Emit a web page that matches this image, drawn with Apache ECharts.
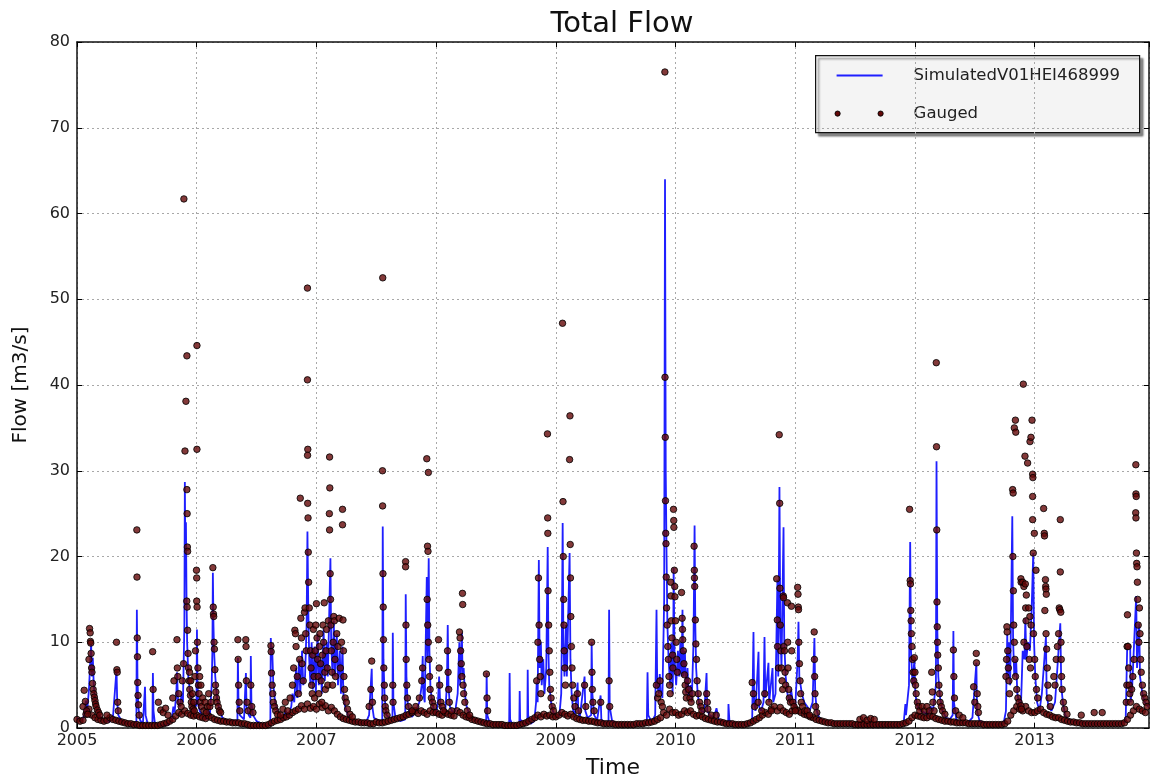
<!DOCTYPE html>
<html>
<head>
<meta charset="utf-8">
<script src="https://cdn.jsdelivr.net/npm/echarts@6/dist/echarts.min.js"></script>
<style>
html,body{margin:0;padding:0;background:#fff;}
#chart{width:1150px;height:782px;}
</style>
</head>
<body>
<div id="chart"></div>
<script>
// ---------- DATA (decimal year, flow m3/s) ----------
const yearTicks = [2005, 2006, 2007, 2008, 2009, 2010, 2011, 2012, 2013];
const flowTicks = [0, 10, 20, 30, 40, 50, 60, 70, 80];

// Simulated series
const simulated = [
[2005.000,1.2],[2005.020,0.9],[2005.040,0.8],[2005.060,1.5],[2005.075,3.2],[2005.085,2.0],[2005.100,4.5],[2005.110,7.5],[2005.118,9.8],[2005.125,6.0],[2005.132,8.2],[2005.140,5.0],[2005.150,3.5],[2005.165,2.5],[2005.185,1.5],[2005.210,1.0],[2005.240,0.8],[2005.270,0.7],[2005.300,1.2],[2005.315,4.0],[2005.330,6.8],[2005.336,3.0],[2005.345,1.5],[2005.370,0.9],[2005.400,0.6],[2005.430,0.5],[2005.460,0.4],[2005.496,0.3],[2005.500,13.8],[2005.505,6.0],[2005.512,2.5],[2005.525,1.0],[2005.550,0.4],[2005.565,0.3],[2005.568,4.8],[2005.573,1.5],[2005.590,0.5],[2005.630,0.4],[2005.634,6.4],[2005.639,2.0],[2005.650,0.6],[2005.680,0.3],[2005.720,0.3],[2005.760,0.4],[2005.790,0.9],[2005.805,2.5],[2005.815,1.8],[2005.830,4.0],[2005.835,6.5],[2005.845,3.0],[2005.860,2.5],[2005.875,4.0],[2005.885,3.0],[2005.897,12.0],[2005.901,28.7],[2005.905,20.0],[2005.910,24.0],[2005.915,15.0],[2005.920,10.0],[2005.930,6.0],[2005.945,4.0],[2005.960,3.0],[2005.975,2.0],[2005.990,3.0],[2005.998,2.5],
[2006.002,11.5],[2006.006,6.0],[2006.012,3.0],[2006.025,2.0],[2006.040,1.6],[2006.060,1.2],[2006.080,1.0],[2006.095,2.0],[2006.110,1.5],[2006.125,5.0],[2006.131,9.0],[2006.135,18.1],[2006.140,12.0],[2006.145,9.0],[2006.155,6.0],[2006.170,3.5],[2006.190,2.0],[2006.215,1.2],[2006.240,0.9],[2006.270,0.8],[2006.300,0.9],[2006.340,0.8],[2006.344,8.2],[2006.349,3.0],[2006.360,1.5],[2006.395,1.0],[2006.408,1.2],[2006.411,6.4],[2006.416,2.5],[2006.435,1.5],[2006.449,1.2],[2006.452,8.4],[2006.457,3.0],[2006.470,1.5],[2006.500,0.8],[2006.540,0.5],[2006.580,0.3],[2006.615,0.3],[2006.619,10.5],[2006.625,8.0],[2006.630,9.5],[2006.640,5.0],[2006.655,3.0],[2006.675,2.0],[2006.700,1.5],[2006.720,1.0],[2006.745,2.0],[2006.760,1.2],[2006.790,2.5],[2006.800,4.0],[2006.815,3.0],[2006.830,7.0],[2006.840,3.5],[2006.855,8.0],[2006.865,4.0],[2006.880,9.0],[2006.890,5.0],[2006.905,6.0],[2006.918,12.0],[2006.925,22.9],[2006.932,14.0],[2006.940,8.0],[2006.950,5.0],[2006.960,10.0],[2006.970,4.5],[2006.985,9.5],[2006.995,4.0],
[2007.010,11.0],[2007.020,5.0],[2007.035,8.0],[2007.045,4.0],[2007.060,11.5],[2007.070,5.5],[2007.085,10.0],[2007.095,6.0],[2007.105,12.0],[2007.117,19.8],[2007.123,10.0],[2007.135,6.0],[2007.145,12.5],[2007.155,6.0],[2007.170,11.0],[2007.180,5.0],[2007.195,9.0],[2007.205,4.0],[2007.218,9.5],[2007.225,4.0],[2007.240,2.5],[2007.270,1.3],[2007.300,0.9],[2007.340,0.7],[2007.380,0.6],[2007.410,0.5],[2007.440,1.5],[2007.450,4.0],[2007.462,6.9],[2007.467,2.5],[2007.480,1.2],[2007.510,0.9],[2007.550,0.8],[2007.554,23.5],[2007.560,8.0],[2007.570,3.5],[2007.585,1.5],[2007.635,0.9],[2007.638,11.1],[2007.643,3.0],[2007.660,1.2],[2007.700,0.8],[2007.742,1.0],[2007.746,15.6],[2007.752,6.0],[2007.762,3.0],[2007.780,1.5],[2007.800,1.3],[2007.830,2.0],[2007.860,3.0],[2007.880,5.0],[2007.888,8.4],[2007.893,4.0],[2007.905,3.0],[2007.922,17.6],[2007.928,8.0],[2007.938,19.8],[2007.944,9.0],[2007.952,5.0],[2007.965,3.0],[2007.985,2.0],
[2008.000,1.5],[2008.015,3.0],[2008.025,6.0],[2008.035,2.5],[2008.055,2.0],[2008.075,1.6],[2008.090,5.0],[2008.097,12.0],[2008.103,5.0],[2008.115,2.5],[2008.140,1.8],[2008.160,2.0],[2008.180,4.0],[2008.194,10.0],[2008.200,5.0],[2008.215,11.1],[2008.221,6.0],[2008.230,7.0],[2008.240,4.0],[2008.255,2.5],[2008.280,1.5],[2008.310,1.0],[2008.350,0.8],[2008.390,0.7],[2008.418,0.6],[2008.422,6.4],[2008.427,1.5],[2008.450,0.5],[2008.500,0.4],[2008.550,0.3],[2008.610,0.3],[2008.614,6.4],[2008.618,1.0],[2008.640,0.3],[2008.695,0.3],[2008.698,4.3],[2008.702,1.0],[2008.740,0.4],[2008.762,0.5],[2008.765,6.8],[2008.769,1.5],[2008.790,0.5],[2008.820,0.8],[2008.835,3.0],[2008.840,5.4],[2008.848,3.0],[2008.858,19.6],[2008.865,7.0],[2008.875,10.0],[2008.882,5.0],[2008.895,8.0],[2008.905,4.0],[2008.920,7.0],[2008.932,21.1],[2008.938,9.0],[2008.945,5.0],[2008.960,3.0],[2008.975,2.0],[2008.990,1.5],
[2009.010,1.2],[2009.030,1.5],[2009.045,4.0],[2009.050,10.0],[2009.057,23.9],[2009.063,10.0],[2009.072,6.0],[2009.085,12.0],[2009.092,6.0],[2009.115,20.4],[2009.122,8.0],[2009.132,4.0],[2009.145,2.0],[2009.160,1.5],[2009.182,5.3],[2009.187,2.0],[2009.200,1.2],[2009.240,6.0],[2009.246,2.0],[2009.265,1.2],[2009.295,1.5],[2009.299,10.0],[2009.305,4.0],[2009.320,1.5],[2009.345,0.9],[2009.374,3.8],[2009.380,1.0],[2009.410,0.6],[2009.440,0.6],[2009.445,13.8],[2009.450,2.5],[2009.470,0.8],[2009.520,0.5],[2009.580,0.4],[2009.640,0.4],[2009.700,0.4],[2009.760,0.5],[2009.766,6.5],[2009.772,1.5],[2009.800,0.7],[2009.830,1.5],[2009.841,13.8],[2009.847,5.0],[2009.860,4.0],[2009.868,6.3],[2009.875,4.5],[2009.890,3.5],[2009.905,15.0],[2009.912,64.0],[2009.918,30.0],[2009.925,20.0],[2009.932,12.0],[2009.942,8.0],[2009.955,5.0],[2009.965,10.0],[2009.975,4.0],[2009.980,7.0],[2009.984,18.7],[2009.992,8.0],
[2010.005,5.0],[2010.020,9.0],[2010.030,6.0],[2010.040,10.0],[2010.050,6.0],[2010.058,13.8],[2010.065,6.0],[2010.078,9.0],[2010.088,4.0],[2010.100,7.0],[2010.110,3.5],[2010.125,5.0],[2010.135,3.0],[2010.150,10.0],[2010.159,23.6],[2010.165,12.0],[2010.172,7.0],[2010.185,4.0],[2010.200,2.5],[2010.215,2.0],[2010.240,1.8],[2010.259,6.4],[2010.265,2.0],[2010.285,1.5],[2010.320,1.2],[2010.342,2.3],[2010.360,1.0],[2010.400,0.7],[2010.440,0.7],[2010.442,2.8],[2010.450,0.8],[2010.500,0.5],[2010.560,0.4],[2010.600,0.4],[2010.640,0.8],[2010.651,11.2],[2010.657,3.0],[2010.668,2.0],[2010.693,8.9],[2010.698,2.5],[2010.715,2.0],[2010.735,3.0],[2010.743,10.6],[2010.750,3.5],[2010.776,7.6],[2010.782,3.0],[2010.810,7.0],[2010.816,3.0],[2010.835,4.0],[2010.851,17.3],[2010.858,6.0],[2010.868,28.1],[2010.875,12.0],[2010.885,7.0],[2010.902,23.4],[2010.908,10.0],[2010.920,6.0],[2010.935,4.0],[2010.950,3.0],[2010.965,4.5],[2010.980,3.0],
[2011.000,2.5],[2011.020,8.0],[2011.027,12.4],[2011.034,6.0],[2011.055,4.0],[2011.075,3.0],[2011.100,2.5],[2011.120,2.0],[2011.145,3.0],[2011.160,10.5],[2011.167,4.0],[2011.180,2.0],[2011.200,1.2],[2011.240,0.8],[2011.300,0.6],[2011.380,0.5],[2011.460,0.4],[2011.540,0.4],[2011.620,0.4],[2011.700,0.4],[2011.780,0.4],[2011.850,0.4],[2011.905,0.5],[2011.920,2.8],[2011.925,1.5],[2011.950,5.0],[2011.960,21.7],[2011.967,9.0],[2011.980,5.0],[2011.995,8.0],
[2012.003,4.0],[2012.020,2.5],[2012.050,2.0],[2012.080,1.8],[2012.110,1.5],[2012.130,2.5],[2012.150,2.0],[2012.175,5.0],[2012.180,31.1],[2012.186,12.0],[2012.195,6.0],[2012.210,3.5],[2012.230,2.0],[2012.260,1.2],[2012.290,1.0],[2012.315,1.5],[2012.321,11.3],[2012.326,3.0],[2012.345,1.0],[2012.390,0.6],[2012.440,0.6],[2012.480,1.2],[2012.513,7.6],[2012.518,2.0],[2012.540,0.8],[2012.600,0.5],[2012.680,0.4],[2012.740,0.5],[2012.760,2.0],[2012.771,11.0],[2012.776,6.0],[2012.785,10.0],[2012.795,5.0],[2012.813,24.7],[2012.820,10.0],[2012.830,6.0],[2012.845,8.0],[2012.855,4.0],[2012.870,3.0],[2012.885,2.5],[2012.900,9.0],[2012.915,8.0],[2012.922,12.8],[2012.930,8.0],[2012.945,10.0],[2012.960,9.0],[2012.975,14.0],[2012.988,20.4],[2012.995,10.0],
[2013.005,6.0],[2013.020,3.0],[2013.040,2.0],[2013.060,4.0],[2013.094,10.6],[2013.100,4.0],[2013.115,2.5],[2013.140,2.0],[2013.170,3.0],[2013.185,6.0],[2013.214,12.2],[2013.222,5.0],[2013.235,3.0],[2013.255,1.5],[2013.280,1.0],[2013.330,0.7],[2013.400,0.6],[2013.480,0.5],[2013.560,0.5],[2013.640,0.5],[2013.720,0.5],[2013.760,0.8],[2013.773,9.5],[2013.798,9.5],[2013.802,3.0],[2013.815,5.0],[2013.848,15.4],[2013.855,7.0],[2013.873,12.2],[2013.880,6.0],[2013.900,4.0],[2013.920,3.0],[2013.950,2.5]
];

const gaugedHigh = [
[2005.05,2.5],[2005.06,4.4],[2005.07,3.1],[2005.08,2.0],[2005.09,1.6],[2005.10,8.0],[2005.105,11.6],[2005.11,11.1],[2005.112,10.1],[2005.115,9.9],[2005.118,8.7],[2005.122,7.0],[2005.125,6.5],[2005.13,5.2],[2005.135,4.5],[2005.14,4.0],[2005.145,3.6],[2005.15,3.2],[2005.155,2.8],[2005.16,2.5],[2005.17,2.1],[2005.18,1.8],[2005.19,1.5],[2005.25,1.5],
[2005.33,10.0],[2005.333,6.8],[2005.336,6.5],[2005.34,3.0],[2005.345,2.0],
[2005.500,23.1],[2005.501,17.6],[2005.503,10.5],[2005.505,8.3],[2005.507,5.3],[2005.51,3.8],[2005.514,2.7],[2005.52,1.5],
[2005.632,8.9],[2005.636,4.5],[2005.68,3.0],[2005.70,2.1],[2005.72,1.8],[2005.74,2.3],[2005.76,1.5],
[2005.80,3.5],[2005.81,5.5],[2005.835,10.3],[2005.838,7.0],[2005.842,6.0],[2005.85,4.0],[2005.86,3.0],[2005.87,2.5],[2005.88,5.5],[2005.89,7.5],
[2005.893,61.7],[2005.902,32.3],[2005.910,38.1],[2005.918,43.4],[2005.918,27.8],[2005.92,25.0],[2005.922,21.1],[2005.924,20.6],[2005.917,14.8],[2005.92,14.1],[2005.924,11.4],[2005.928,8.7],[2005.932,7.0],[2005.937,5.5],[2005.942,4.5],[2005.948,3.8],[2005.955,3.0],[2005.96,2.5],[2005.97,2.2],[2005.98,2.0],
[2005.94,6.5],[2005.95,5.5],[2005.965,4.0],[2005.975,3.0],[2005.985,6.0],[2005.99,9.0],
[2006.002,44.6],[2006.002,32.5],[2005.998,18.4],[2006.0,17.5],[2006.0,14.8],[2006.003,14.1],[2006.006,10.0],[2006.01,7.0],[2006.015,5.0],[2006.02,4.0],[2006.03,3.0],[2006.04,2.5],[2006.06,2.0],[2006.08,1.8],
[2006.025,6.0],[2006.035,5.0],[2006.05,3.5],[2006.07,3.0],[2006.09,2.5],[2006.10,4.0],
[2006.11,2.5],[2006.12,3.0],[2006.135,18.7],[2006.138,14.1],[2006.14,13.3],[2006.142,13.0],[2006.145,10.0],[2006.148,9.2],[2006.152,6.8],[2006.157,5.0],[2006.16,4.2],[2006.165,3.5],[2006.17,3.0],[2006.18,2.5],[2006.19,2.0],[2006.2,1.8],
[2006.344,10.3],[2006.346,8.0],[2006.35,5.0],[2006.355,3.0],[2006.36,2.0],
[2006.41,10.3],[2006.412,9.5],[2006.415,5.5],[2006.42,3.0],[2006.43,2.0],[2006.452,5.0],[2006.46,2.5],[2006.47,1.8],
[2006.62,9.6],[2006.622,8.9],[2006.625,6.4],[2006.63,5.0],[2006.635,4.0],[2006.64,3.0],[2006.65,2.5],[2006.66,2.0],[2006.675,1.6],
[2006.70,1.5],[2006.72,2.2],[2006.74,3.0],[2006.76,2.0],[2006.78,3.5],
[2006.80,5.0],[2006.81,7.0],[2006.82,11.4],[2006.825,11.0],[2006.83,9.5],[2006.84,6.0],[2006.85,4.0],[2006.86,8.0],[2006.865,26.8],[2006.87,12.8],[2006.875,10.5],[2006.88,7.5],[2006.89,5.5],[2006.90,13.5],[2006.905,14.0],[2006.91,11.0],[2006.915,9.0],
[2006.925,51.3],[2006.925,40.6],[2006.928,32.5],[2006.926,31.8],[2006.927,26.2],[2006.93,24.5],[2006.932,20.5],[2006.935,17.0],[2006.94,14.0],[2006.945,12.0],[2006.95,9.0],[2006.955,7.0],[2006.96,5.0],[2006.965,4.0],[2006.97,8.5],[2006.975,11.5],[2006.98,6.0],[2006.985,3.5],[2006.99,9.0],[2006.995,12.0],
[2007.0,14.5],[2007.005,10.5],[2007.01,8.0],[2007.015,6.0],[2007.02,4.0],[2007.025,9.5],[2007.03,11.0],[2007.035,7.5],[2007.04,5.5],[2007.045,3.0],[2007.05,8.5],[2007.055,12.0],[2007.06,10.0],[2007.065,14.6],[2007.07,6.5],[2007.075,4.5],[2007.08,9.0],[2007.085,11.5],[2007.09,7.0],[2007.095,5.0],[2007.10,12.5],
[2007.11,31.6],[2007.112,28.0],[2007.108,25.0],[2007.11,23.1],[2007.115,18.0],[2007.118,15.0],[2007.12,12.0],[2007.125,9.0],[2007.13,6.5],[2007.135,5.0],[2007.14,10.0],[2007.145,13.0],[2007.15,12.5],[2007.155,8.0],[2007.16,6.0],[2007.17,11.0],[2007.18,9.5],[2007.19,12.8],[2007.20,7.0],[2007.21,10.0],
[2007.218,25.5],[2007.218,23.7],[2007.222,12.6],[2007.226,9.0],[2007.23,6.0],[2007.235,4.5],[2007.24,3.5],[2007.25,3.0],[2007.26,2.2],[2007.28,1.6],[2007.30,1.3],
[2007.44,2.5],[2007.455,4.5],[2007.462,7.8],[2007.468,3.0],
[2007.554,52.5],[2007.552,30.0],[2007.553,25.9],[2007.556,18.0],[2007.558,14.1],[2007.56,10.3],[2007.563,7.0],[2007.567,5.0],[2007.57,3.5],[2007.575,2.5],[2007.58,2.0],[2007.59,1.5],
[2007.638,5.0],[2007.64,3.0],
[2007.745,19.4],[2007.745,18.8],[2007.748,12.0],[2007.75,8.0],[2007.755,5.0],[2007.76,3.5],[2007.77,2.5],
[2007.80,2.0],[2007.83,2.5],[2007.86,3.5],[2007.88,5.5],[2007.887,7.0],
[2007.922,31.4],[2007.935,29.8],[2007.928,21.2],[2007.932,20.6],[2007.925,15.0],[2007.93,12.0],[2007.935,10.0],[2007.94,8.0],[2007.945,6.0],[2007.95,4.5],[2007.96,3.5],[2007.97,3.0],[2007.98,2.5],
[2008.02,10.3],[2008.025,7.0],[2008.03,5.0],[2008.04,3.0],[2008.05,2.5],[2008.06,2.0],
[2008.095,9.0],[2008.10,6.5],[2008.105,4.5],[2008.11,3.0],[2008.13,2.0],
[2008.22,15.7],[2008.222,14.4],[2008.195,11.2],[2008.20,10.5],[2008.205,9.0],[2008.21,7.5],[2008.215,6.0],[2008.225,5.0],[2008.23,4.0],[2008.24,3.0],[2008.26,2.0],[2008.28,1.5],
[2008.42,6.3],[2008.425,3.5],[2008.43,2.0],
[2008.84,5.5],[2008.85,10.0],[2008.855,17.5],[2008.86,12.0],[2008.865,8.0],[2008.87,6.0],[2008.875,4.0],
[2008.93,34.3],[2008.932,24.5],[2008.933,22.7],[2008.935,16.0],[2008.94,12.0],[2008.945,9.0],[2008.95,6.5],[2008.955,4.5],[2008.96,3.5],[2008.97,2.5],[2008.98,2.0],
[2009.056,47.2],[2009.06,26.4],[2009.062,20.0],[2009.065,15.0],[2009.068,12.0],[2009.07,9.0],[2009.075,7.0],[2009.08,5.0],
[2009.118,36.4],[2009.115,31.3],[2009.12,21.4],[2009.122,17.5],[2009.125,13.0],[2009.13,9.5],[2009.135,7.0],[2009.14,5.0],[2009.15,3.5],[2009.16,2.5],
[2009.18,4.0],[2009.19,2.0],[2009.24,5.0],[2009.25,2.5],
[2009.299,10.0],[2009.302,6.5],[2009.305,4.5],[2009.31,3.0],[2009.32,2.0],[2009.375,3.0],[2009.445,5.5],[2009.45,2.5],
[2009.84,5.0],[2009.85,3.5],[2009.86,4.0],[2009.87,5.5],[2009.88,3.0],[2009.89,2.5],
[2009.911,76.5],[2009.912,40.9],[2009.914,33.9],[2009.916,26.5],[2009.918,22.7],[2009.92,21.5],[2009.922,17.6],[2009.925,14.0],[2009.93,12.0],[2009.935,9.5],[2009.94,8.0],[2009.945,6.0],[2009.95,5.0],[2009.955,4.0],
[2009.96,17.0],[2009.962,15.4],[2009.965,12.5],[2009.97,10.5],[2009.975,8.5],[2009.978,7.0],
[2009.983,25.5],[2009.985,24.2],[2009.986,23.4],[2009.99,18.4],[2009.993,16.5],[2009.995,15.3],[2010.0,12.5],[2010.005,10.0],[2010.01,8.0],[2010.015,6.5],
[2010.05,15.8],[2010.055,12.8],[2010.058,11.5],[2010.06,10.3],[2010.065,9.0],[2010.07,7.5],[2010.075,6.2],[2010.08,5.0],[2010.085,4.2],[2010.09,3.5],[2010.10,5.5],[2010.11,4.5],[2010.12,3.5],[2010.13,3.0],[2010.14,4.0],
[2010.155,21.2],[2010.157,18.4],[2010.158,17.5],[2010.16,16.5],[2010.165,12.6],[2010.17,9.8],[2010.175,8.0],[2010.18,5.5],[2010.19,4.0],[2010.20,3.0],[2010.21,2.5],[2010.22,2.0],
[2010.26,4.0],[2010.265,3.0],[2010.27,2.2],[2010.30,1.5],[2010.34,1.5],
[2010.64,5.3],[2010.65,4.0],[2010.66,2.5],[2010.69,3.0],[2010.72,2.0],[2010.745,4.0],[2010.78,3.0],[2010.80,2.0],
[2010.845,17.4],[2010.85,12.6],[2010.852,9.5],[2010.86,7.0],[2010.866,34.2],[2010.87,26.2],[2010.872,16.3],[2010.875,12.0],[2010.88,9.0],[2010.885,7.0],[2010.89,5.5],[2010.895,4.5],
[2010.90,15.4],[2010.902,15.2],[2010.905,9.5],[2010.91,9.0],[2010.915,6.5],[2010.92,5.0],[2010.935,14.6],[2010.937,10.0],[2010.94,7.0],[2010.945,4.5],[2010.95,3.5],[2010.96,3.0],[2010.968,14.2],[2010.97,9.0],[2010.98,3.0],[2010.99,2.5],[2011.0,2.0],
[2011.02,16.4],[2011.023,15.6],[2011.025,14.1],[2011.027,13.8],[2011.03,10.0],[2011.035,7.5],[2011.04,5.5],[2011.045,4.0],[2011.05,3.0],[2011.06,2.5],[2011.08,2.0],[2011.10,2.0],[2011.12,1.5],
[2011.158,11.2],[2011.16,8.0],[2011.162,6.0],[2011.165,4.0],[2011.17,2.5],[2011.18,1.8],
[2011.54,1.0],[2011.57,1.2],[2011.60,0.9],[2011.63,1.1],[2011.66,1.0],
[2011.955,25.5],[2011.96,17.2],[2011.962,16.8],[2011.965,13.7],[2011.968,12.5],[2011.97,11.0],[2011.975,9.5],[2011.98,8.0],[2011.985,6.5],[2011.99,5.5],[2011.995,8.2],[2012.0,6.5],[2012.005,5.0],[2012.01,4.0],[2012.02,3.0],[2012.03,2.5],[2012.04,2.0],[2012.06,2.5],[2012.08,2.0],[2012.10,2.5],[2012.12,2.0],
[2012.14,6.5],[2012.145,4.2],[2012.15,3.0],[2012.16,2.0],
[2012.178,42.6],[2012.18,32.8],[2012.182,23.1],[2012.184,14.7],[2012.186,11.8],[2012.188,10.0],[2012.19,8.5],[2012.195,7.0],[2012.20,5.0],[2012.205,4.0],[2012.21,3.0],[2012.22,2.5],[2012.23,2.0],[2012.25,1.6],
[2012.321,9.1],[2012.325,6.0],[2012.33,3.5],[2012.34,2.0],[2012.37,1.5],[2012.40,1.2],
[2012.49,4.8],[2012.50,3.0],[2012.512,8.7],[2012.514,7.6],[2012.52,4.0],[2012.525,2.5],[2012.53,1.8],
[2012.76,6.0],[2012.765,8.0],[2012.768,11.8],[2012.77,11.2],[2012.775,9.0],[2012.78,7.0],[2012.785,5.5],[2012.79,4.0],
[2012.816,27.8],[2012.82,27.4],[2012.839,35.9],[2012.83,35.0],[2012.842,34.5],[2012.818,20.0],[2012.822,16.0],[2012.825,12.0],[2012.83,10.0],[2012.835,8.0],[2012.84,6.0],[2012.85,4.5],[2012.86,3.5],[2012.87,3.0],
[2012.885,17.4],[2012.887,17.0],[2012.885,2.6],[2012.89,2.2],
[2012.905,40.1],[2012.919,31.7],[2012.941,30.9],[2012.961,33.4],[2012.969,33.9],[2012.978,35.9],[2012.983,29.6],[2012.985,29.2],[2012.983,27.0],[2012.983,24.3],[2012.997,22.7],[2012.988,20.4],[2013.011,18.4],
[2012.90,17.0],[2012.91,16.5],[2012.922,16.8],[2012.925,14.0],[2012.928,12.5],[2012.93,15.5],[2012.95,14.0],[2012.96,13.0],[2012.97,12.0],[2012.91,10.0],[2012.935,9.5],[2012.955,8.0],[2012.965,7.0],[2012.99,11.0],[2013.0,8.0],[2013.005,6.0],[2013.015,4.5],[2013.025,3.5],
[2013.075,25.6],[2013.08,22.7],[2013.082,22.4],[2013.09,17.3],[2013.092,16.5],[2013.094,16.2],[2013.097,15.6],[2013.085,13.7],[2013.095,11.0],[2013.1,9.2],[2013.105,7.0],[2013.11,5.0],[2013.12,3.5],[2013.13,2.5],
[2013.16,6.0],[2013.17,5.0],[2013.18,8.0],[2013.19,9.5],[2013.20,11.0],
[2013.214,24.3],[2013.214,18.2],[2013.205,14.0],[2013.21,13.8],[2013.218,13.5],[2013.22,10.0],[2013.222,8.0],[2013.225,6.0],[2013.23,4.5],[2013.24,3.0],[2013.25,2.2],[2013.27,1.6],
[2013.389,1.5],[2013.497,1.8],[2013.564,1.8],
[2013.765,3.0],[2013.77,5.0],[2013.772,9.5],[2013.775,13.2],[2013.78,9.5],[2013.785,7.0],[2013.79,5.0],[2013.795,4.0],[2013.80,3.0],[2013.81,4.5],[2013.82,6.0],[2013.83,8.0],
[2013.845,30.7],[2013.846,27.3],[2013.848,27.0],[2013.844,25.1],[2013.846,24.5],[2013.85,20.4],[2013.852,19.2],[2013.855,18.8],[2013.858,17.0],[2013.86,15.0],[2013.865,12.0],[2013.87,10.0],[2013.875,14.0],[2013.88,11.0],[2013.885,8.0],[2013.89,6.5],[2013.9,5.0],[2013.91,4.0],[2013.92,3.5],[2013.93,3.0],[2013.94,2.5]
];

// Gauged low flow, one reading every 0.025 year starting 2005.0
const lowFlowStart = 2005.0;
const lowFlowStep = 0.025;
const gaugedLowFlow = [
1.0,0.8,0.9,1.6,2.2,1.5,1.2,1.0,0.9,0.8,0.9,1.2,1.0,0.9,0.8,0.7,0.6,0.5,0.5,0.4,0.4,0.3,0.3,0.3,0.3,0.3,0.3,0.3,0.4,0.5,0.6,0.8,1.0,1.4,1.8,1.6,2.0,1.7,1.5,1.4,
1.5,1.3,1.2,1.1,1.4,1.2,1.0,0.9,0.8,0.8,0.7,0.7,0.6,0.6,0.6,0.5,0.5,0.4,0.3,0.3,0.3,0.3,0.3,0.3,0.4,0.6,0.8,0.9,1.0,1.2,1.3,1.5,1.8,2.0,2.2,2.6,2.2,2.8,2.3,2.5,
2.2,2.8,2.4,2.6,2.0,2.4,2.0,1.6,1.3,1.1,1.0,0.9,0.8,0.7,0.7,0.6,0.6,0.6,0.5,0.5,0.7,0.6,0.6,0.7,0.8,0.9,1.0,1.1,1.2,1.3,1.5,1.6,1.8,2.0,1.7,2.0,1.8,1.6,2.0,1.8,
1.8,1.6,1.5,1.8,1.6,1.5,1.4,2.0,1.8,1.5,1.3,1.2,1.0,0.9,0.8,0.7,0.6,0.5,0.5,0.4,0.4,0.4,0.4,0.3,0.3,0.3,0.3,0.3,0.4,0.5,0.6,0.8,1.0,1.2,1.5,1.3,1.6,1.4,1.5,1.3,
1.3,1.5,1.8,1.6,1.4,1.6,1.3,1.1,1.0,0.9,0.9,0.8,0.8,0.7,0.6,0.6,0.5,0.5,0.5,0.5,0.4,0.4,0.4,0.4,0.4,0.4,0.4,0.5,0.5,0.5,0.6,0.6,0.7,0.8,1.0,1.2,1.8,1.5,2.2,1.8,
1.8,1.5,1.6,2.0,1.8,2.0,1.6,1.4,1.5,1.3,1.1,1.0,0.9,0.8,0.7,0.7,0.6,0.5,0.5,0.5,0.4,0.4,0.4,0.4,0.5,0.6,0.8,1.0,1.2,1.5,1.8,1.6,2.2,2.5,2.0,2.4,2.0,1.8,1.6,2.0,
2.2,2.0,1.8,1.6,1.5,1.3,1.2,1.0,0.9,0.8,0.7,0.6,0.6,0.5,0.5,0.5,0.5,0.5,0.5,0.5,0.4,0.4,0.4,0.4,0.4,0.4,0.4,0.4,0.4,0.4,0.4,0.4,0.4,0.4,0.4,0.4,0.5,0.6,0.8,1.2,
1.5,1.4,1.3,1.2,1.2,1.4,1.3,1.1,1.0,0.9,0.8,0.8,0.7,0.7,0.6,0.6,0.6,0.6,0.5,0.5,0.5,0.5,0.5,0.4,0.4,0.4,0.4,0.4,0.4,0.4,0.5,0.8,1.5,2.0,2.5,2.2,2.0,2.5,2.0,1.8,
1.8,2.0,2.2,1.8,1.6,1.5,1.3,1.2,1.2,1.0,0.9,0.8,0.7,0.7,0.6,0.6,0.5,0.5,0.5,0.5,0.5,0.5,0.5,0.5,0.5,0.5,0.5,0.5,0.5,0.5,0.6,1.0,1.5,2.0,2.5,2.2,2.0,1.8
];

const seriesNames = ['SimulatedV01HEI468999', 'Gauged'];
const chartTitle = 'Total Flow';
const xName = 'Time';
const yName = 'Flow [m3/s]';

// ---------- CHART ----------
const lowFlowData = gaugedLowFlow.map((v, i) => [+(lowFlowStart + i * lowFlowStep).toFixed(4), v]);
const gaugedData = lowFlowData.concat(gaugedHigh);

const FONT = 'DejaVu Sans';
const X_MIN = yearTicks[0], X_MAX = 2013.955;
const Y_MIN = flowTicks[0], Y_MAX = flowTicks[flowTicks.length - 1];

const chart = echarts.init(document.getElementById('chart'), null, {renderer: 'canvas'});

const frameTick = {show: true, inside: true, length: 5, lineStyle: {color: '#000', width: 1}};
const gridLine = {show: true, lineStyle: {color: '#a8a8a8', width: 1, type: [2, 3]}};

const DOT_FILL = '#640808', DOT_EDGE = '#000000';

chart.setOption({
  animation: false,
  backgroundColor: '#ffffff',
  title: {
    text: chartTitle, left: 617, top: 5, textAlign: 'center',
    textStyle: {fontFamily: FONT, fontSize: 29, fontWeight: 'normal', color: '#111'}
  },
  grid: {left: 77, right: 1, top: 42, bottom: 54, containLabel: false, outerBoundsMode: 'none'},
  xAxis: [{
    type: 'value', min: X_MIN, max: X_MAX, interval: 1, position: 'bottom',
    name: xName, nameLocation: 'middle', nameGap: 29,
    nameTextStyle: {fontFamily: FONT, fontSize: 22, color: '#111'},
    axisLine: {show: true, onZero: false, lineStyle: {color: '#111', width: 1.5}},
    axisTick: frameTick,
    axisLabel: {fontFamily: FONT, fontSize: 16, color: '#222', margin: 5, formatter: v => String(Math.round(v)), showMaxLabel: false},
    splitLine: gridLine
  }, {
    type: 'value', min: X_MIN, max: X_MAX, interval: 1, position: 'top',
    axisLine: {show: true, onZero: false, lineStyle: {color: '#111', width: 1.5}},
    axisTick: frameTick, axisLabel: {show: false}, splitLine: {show: false}
  }],
  yAxis: [{
    type: 'value', min: Y_MIN, max: Y_MAX, interval: 10, position: 'left',
    name: yName, nameLocation: 'middle', nameGap: 46, nameRotate: 90,
    nameTextStyle: {fontFamily: FONT, fontSize: 20, color: '#111'},
    axisLine: {show: true, onZero: false, lineStyle: {color: '#111', width: 1.5}},
    axisTick: frameTick,
    axisLabel: {fontFamily: FONT, fontSize: 16, color: '#222', margin: 7},
    splitLine: gridLine
  }, {
    type: 'value', min: Y_MIN, max: Y_MAX, interval: 10, position: 'right',
    axisLine: {show: true, onZero: false, lineStyle: {color: '#111', width: 1.5}},
    axisTick: frameTick, axisLabel: {show: false}, splitLine: {show: false}
  }],
  series: [{
    name: seriesNames[0], type: 'line', data: simulated,
    xAxisIndex: 0, yAxisIndex: 0,
    showSymbol: false, symbol: 'none',
    lineStyle: {color: '#1f1fff', width: 1.8},
    z: 2
  }, {
    name: seriesNames[1], type: 'scatter', data: gaugedData,
    xAxisIndex: 0, yAxisIndex: 0,
    symbol: 'circle', symbolSize: 6.5,
    itemStyle: {color: DOT_FILL, borderColor: DOT_EDGE, borderWidth: 1},
    z: 3
  }],
  graphic: [{
    type: 'group', left: 815, top: 55,
    children: [
      {type: 'rect', shape: {x: 0, y: 0, width: 324, height: 77},
       style: {fill: '#f4f4f4', stroke: '#111', lineWidth: 1.2, shadowBlur: 2, shadowOffsetX: 3, shadowOffsetY: 3, shadowColor: 'rgba(0,0,0,0.45)'}},
      {type: 'line', shape: {x1: 21, y1: 20, x2: 67, y2: 20}, style: {stroke: '#1f1fff', lineWidth: 2}},
      {type: 'text', x: 98, y: 20, style: {text: seriesNames[0], fontFamily: FONT, fontSize: 16.5, fill: '#222', verticalAlign: 'middle'}},
      {type: 'circle', shape: {cx: 22, cy: 58, r: 2.6}, style: {fill: DOT_FILL, stroke: DOT_EDGE, lineWidth: 0.9}},
      {type: 'circle', shape: {cx: 65, cy: 58, r: 2.6}, style: {fill: DOT_FILL, stroke: DOT_EDGE, lineWidth: 0.9}},
      {type: 'text', x: 98, y: 58, style: {text: seriesNames[1], fontFamily: FONT, fontSize: 16.5, fill: '#222', verticalAlign: 'middle'}}
    ]
  }]
});
</script>
</body>
</html>
